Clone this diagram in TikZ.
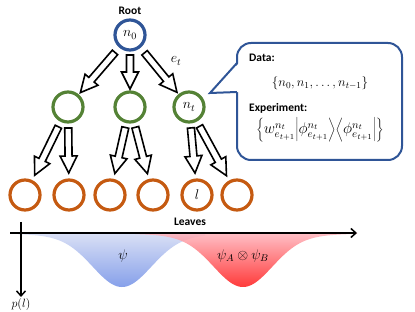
\RequirePackage{fix-cm}
\documentclass[tikz,border=0pt]{standalone}
\usepackage{fontspec}
\newfontfamily\labf{Carlito}
\usetikzlibrary{calc,arrows.meta}
\definecolor{rootblue}{HTML}{2F5597}
\definecolor{midgreen}{HTML}{548235}
\definecolor{leaforange}{HTML}{C55A11}
\definecolor{bluetop}{HTML}{DAE0F5}
\definecolor{bluebot}{HTML}{86A0EA}
\definecolor{redtop}{HTML}{FFB4BC}
\definecolor{redbot}{HTML}{FF1818}
\newcommand\blockarr[4]{%
  \path ($(#1)!#3!(#2)$) coordinate (bas) ($(#2)!#4!(#1)$) coordinate (tip);
  \path ($(tip)!17pt!(bas)$) coordinate (hb);
  \draw[blockarrow] ($(bas)!3.5pt!90:(tip)$) -- ($(hb)!3.5pt!90:(tip)$) -- ($(hb)!8.5pt!90:(tip)$) -- (tip) -- ($(hb)!8.5pt!-90:(tip)$) -- ($(hb)!3.5pt!-90:(tip)$) -- ($(bas)!3.5pt!-90:(tip)$) -- cycle;}
\tikzset{
  treenode/.style={circle, minimum size=30pt, inner sep=0pt, line width=3.2pt, fill=white},
  rootnode/.style={treenode, draw=rootblue},
  midnode/.style={treenode, draw=midgreen},
  leafnode/.style={treenode, draw=leaforange},
  labtext/.style={font=\labf\bfseries\fontsize{11.5}{13}\selectfont, inner sep=0pt},
  mathtext/.style={font=\fontsize{14}{16}\selectfont, inner sep=0pt},
  blockarrow/.style={draw=black, fill=white, line width=1.6pt, line join=miter},
  axisline/.style={line width=1.5pt, -{Straight Barb[length=5pt,width=9pt]}},
  calloutbox/.style={draw=rootblue, line width=2pt, rounded corners=14pt, fill=white},
}
\begin{document}
\begin{tikzpicture}[x=1pt, y=-1pt]
\useasboundingbox (0,0) rectangle (415,312);
% gaussians
\shade[top color=bluetop, bottom color=bluebot]
  (18,233) -- plot[domain=18:205, samples=120, smooth]
  (\x, {233+54*(0.92*exp(0-((\x-122)/41)^2)+0.08*exp(0-((\x-122)/90)^2))})
  -- (205,233) -- cycle;
\shade[top color=redtop, bottom color=redbot, opacity=0.85]
  (135,233) -- plot[domain=135:357, samples=140, smooth]
  (\x, {233+54*(0.92*exp(0-((\x-243)/41)^2)+0.08*exp(0-((\x-243)/90)^2))})
  -- (357,233) -- cycle;
\node[mathtext] (psi) at (123,256) {$\psi$};
\node[mathtext] (psiab) at (243,256) {$\psi_A\otimes\psi_B$};
% axes
\coordinate (xs) at (10,233);
\coordinate (xe) at (357,233);
\coordinate (ys) at (21,222);
\coordinate (ye) at (21,297);
\draw[axisline] (xs) -- (xe);
\draw[axisline] (ys) -- (ye);
\node[font=\fontsize{12}{14}\selectfont, inner sep=0pt] (pl) at (21,305) {$p(l)$};
\node[labtext] (leaveslab) at (190,222) {Leaves};
% tree
\node[rootnode] (root) at (130,35) {\fontsize{14}{16}\selectfont$n_0$};
\node[labtext] (rootlab) at (130,11) {Root};
\node[midnode] (m1) at (68,107) {};
\node[midnode] (m2) at (130,107) {};
\node[midnode] (m3) at (189,107) {\fontsize{14}{16}\selectfont$n_t$};
\node[leafnode] (l1) at (25,195) {};
\node[leafnode] (l2) at (69,195) {};
\node[leafnode] (l3) at (110,195) {};
\node[leafnode] (l4) at (153,195) {};
\node[leafnode] (l5) at (197,195) {\fontsize{14}{16}\selectfont$l$};
\node[leafnode] (l6) at (237,195) {};
\blockarr{root}{m1}{23pt}{19pt}
\blockarr{root}{m2}{20pt}{18pt}
\blockarr{root}{m3}{23pt}{19pt}
\blockarr{m1}{l1}{22pt}{22pt}
\blockarr{m1}{l2}{21pt}{22pt}
\blockarr{m2}{l3}{21pt}{22pt}
\blockarr{m2}{l4}{21pt}{22pt}
\blockarr{m3}{l5}{21pt}{22pt}
\blockarr{m3}{l6}{22pt}{22pt}
\node[mathtext] (et) at (176,61) {$e_t$};
% callout
\node[calloutbox, minimum width=165pt, minimum height=117pt] (call) at (319.5,101.5) {};
\coordinate (ptop) at (237,63);
\coordinate (ptip) at (210,93);
\coordinate (pbot) at (237,92);
\fill[white] ($(ptop)+(2,0)$) -- (ptip) -- ($(pbot)+(2,0)$) -- cycle;
\draw[draw=rootblue, line width=2pt, line join=miter] (ptop) -- (ptip) -- (pbot);
\node[labtext, anchor=west] (datalab) at (249,58) {Data:};
\node[font=\fontsize{13}{15}\selectfont, inner sep=0pt] (datav) at (320,83) {$\{n_0,n_1,\ldots,n_{t-1}\}$};
\node[labtext, anchor=west] (explab) at (249,108) {Experiment:};
\node[font=\fontsize{15.5}{17}\selectfont, inner sep=0pt] (expv) at (320,130) {$\left\{w^{n_t}_{e_{t+1}}\middle|\phi^{n_t}_{e_{t+1}}\middle\rangle\middle\langle\phi^{n_t}_{e_{t+1}}\middle|\right\}$};
\end{tikzpicture}
\end{document}
